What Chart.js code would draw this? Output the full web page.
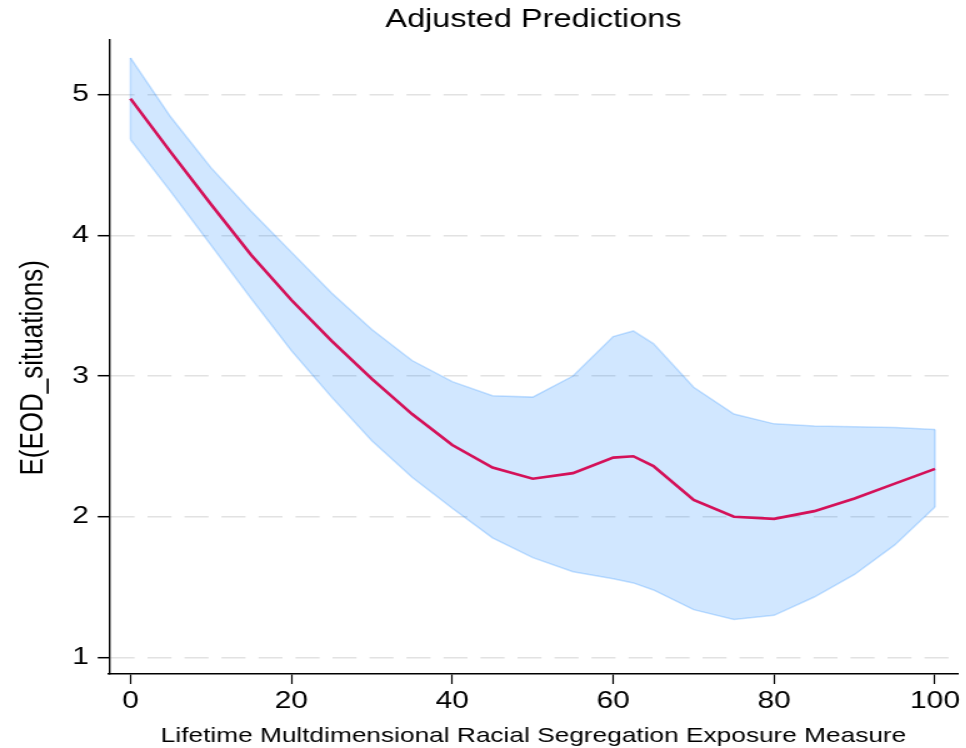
<!DOCTYPE html>
<html>
<head>
<meta charset="utf-8">
<script src="https://cdn.jsdelivr.net/npm/chart.js@4/dist/chart.umd.min.js"></script>
<style>
  html, body { margin: 0; padding: 0; background: #fff; overflow: hidden; }
  /* the original graph is stretched sideways, so the canvas is too */
  #wrap { width: 773px; height: 748px; transform: scaleX(1.25); transform-origin: 0 0; }
</style>
</head>
<body>
<div id="wrap"><canvas id="chart" width="773" height="748"></canvas></div>
<script>
// values
const exposure = [0, 5, 10, 15, 20, 25, 30, 35, 40, 45, 50, 55, 60, 62.5, 65, 70, 75, 80, 85, 90, 95, 100];
const prediction = [4.97, 4.59, 4.22, 3.86, 3.54, 3.25, 2.98, 2.73, 2.51, 2.35, 2.27, 2.31, 2.42, 2.43, 2.36, 2.12, 2.00, 1.985, 2.04, 2.13, 2.235, 2.34];
const upperCI = [5.26, 4.84, 4.48, 4.17, 3.88, 3.59, 3.33, 3.11, 2.96, 2.86, 2.85, 3.00, 3.28, 3.32, 3.23, 2.92, 2.73, 2.66, 2.645, 2.64, 2.635, 2.62];
const lowerCI = [4.68, 4.31, 3.93, 3.55, 3.18, 2.85, 2.54, 2.28, 2.06, 1.85, 1.71, 1.61, 1.56, 1.53, 1.48, 1.34, 1.27, 1.30, 1.43, 1.59, 1.80, 2.07];
const xTicks = [0, 20, 40, 60, 80, 100];
const yTicks = [1, 2, 3, 4, 5];

const lineColor = '#d41159';
const bandFill = 'rgba(26,133,255,0.2)';
const bandEdge = 'rgba(26,133,255,0.24)';
const fontFam = "'Liberation Sans', Arial, sans-serif";

const pts = ys => exposure.map((x, i) => ({ x: x, y: ys[i] }));
const last = exposure.length - 1;

new Chart(document.getElementById('chart'), {
    type: 'line',
    data: {
        datasets: [
            { data: pts(prediction), borderColor: lineColor, borderWidth: 2.6, pointRadius: 0, fill: false, order: 0 },
            { data: pts(upperCI), borderColor: bandEdge, borderWidth: 1.5, backgroundColor: bandFill, pointRadius: 0, fill: '+1', order: 1 },
            { data: pts(lowerCI), borderColor: bandEdge, borderWidth: 1.5, pointRadius: 0, fill: false, order: 1 },
            // closing edges of the band at both ends
            { data: [{ x: exposure[0], y: lowerCI[0] }, { x: exposure[0], y: upperCI[0] }], borderColor: bandEdge, borderWidth: 1.5, pointRadius: 0, fill: false, order: 1 },
            { data: [{ x: exposure[last], y: lowerCI[last] }, { x: exposure[last], y: upperCI[last] }], borderColor: bandEdge, borderWidth: 1.5, pointRadius: 0, fill: false, order: 1 }
        ]
    },
    options: {
        responsive: false,
        animation: false,
        layout: { padding: { left: 0, right: 6.6, top: 0, bottom: 0 } },
        plugins: {
            legend: { display: false },
            tooltip: { enabled: false },
            title: {
                display: true,
                text: 'Adjusted Predictions',
                fullSize: false,
                color: '#000',
                font: { family: fontFam, size: 26, weight: 'normal' },
                padding: { top: 4, bottom: 4.8 }
            }
        },
        scales: {
            x: {
                type: 'linear',
                min: -2.67,
                max: 102.86,
                afterBuildTicks: s => { s.ticks = xTicks.map(v => ({ value: v })); },
                afterFit: s => { s.height = 74; },
                ticks: {
                    color: '#000',
                    padding: 3,
                    maxRotation: 0,
                    font: { family: fontFam, size: 24 }
                },
                grid: { drawOnChartArea: false, drawTicks: true, tickLength: 10, tickColor: '#000', tickWidth: 1.2 },
                border: { display: true, color: '#000', width: 1.5 },
                title: {
                    display: true,
                    text: 'Lifetime Multdimensional Racial Segregation Exposure Measure',
                    color: '#000',
                    font: { family: fontFam, size: 21 },
                    padding: { top: 0, bottom: -1 }
                }
            },
            y: {
                min: 0.883,
                max: 5.387,
                afterBuildTicks: s => { s.ticks = yTicks.map(v => ({ value: v })); },
                afterFit: s => { s.width = 87.2; },
                ticks: {
                    color: '#000',
                    padding: 7,
                    font: { family: fontFam, size: 24 }
                },
                grid: { color: '#e2e2e2', lineWidth: 1.4, drawTicks: true, tickLength: 9, tickColor: '#000', tickWidth: 1.5 },
                border: { display: true, color: '#000', width: 1.4, dash: [19.2, 10.4] },
                title: {
                    display: true,
                    // trailing spaces push the label a little lower along the axis, as in the original
                    text: 'E(EOD_situations)   ',
                    color: '#000',
                    font: { family: fontFam, size: 26 },
                    padding: { top: 11, bottom: 0 }
                }
            }
        }
    }
});
</script>
</body>
</html>
